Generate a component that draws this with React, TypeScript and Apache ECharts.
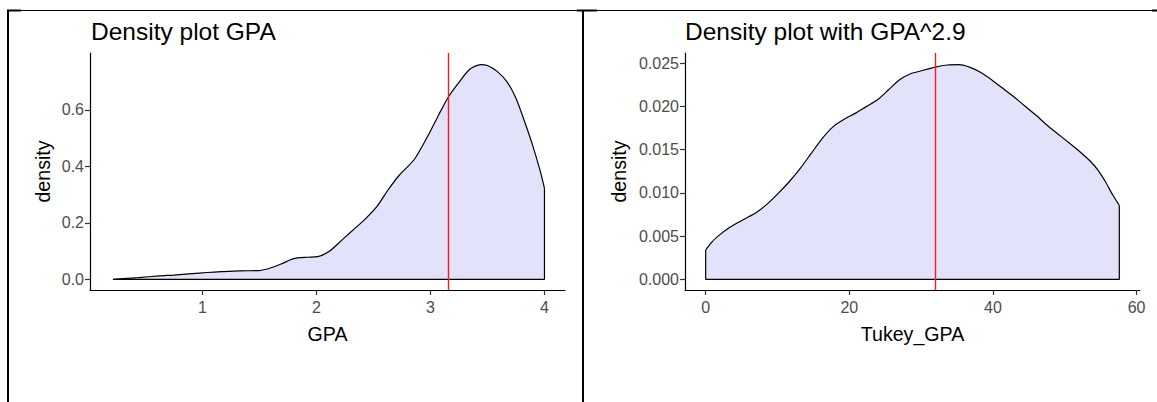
import React, { useEffect, useRef } from "react";
import * as echarts from "echarts";

// Left panel: density of GPA
const gpaX = [0.216, 0.443, 0.62, 0.75, 0.91, 1.04, 1.17, 1.33, 1.5, 1.59, 1.69, 1.8, 1.92, 2.01, 2.11, 2.24, 2.34, 2.43, 2.53, 2.63, 2.73, 2.86, 2.99, 3.08, 3.16, 3.245, 3.34, 3.44, 3.5, 3.585, 3.67, 3.75, 3.81, 3.89, 3.96, 4.0];
const gpaDensity = [0, 0.006, 0.012, 0.015, 0.02, 0.024, 0.027, 0.03, 0.031, 0.039, 0.054, 0.073, 0.078, 0.08, 0.098, 0.145, 0.181, 0.214, 0.257, 0.317, 0.37, 0.425, 0.517, 0.588, 0.647, 0.694, 0.742, 0.76, 0.757, 0.736, 0.7, 0.641, 0.576, 0.482, 0.387, 0.322];
const gpaMean = 3.163;
const gpaXTicks = [1, 2, 3, 4];
const gpaYTicks = [0, 0.2, 0.4, 0.6];

// Right panel: density of Tukey-transformed GPA (GPA^2.9)
const tukeyX = [0, 0.92, 1.94, 2.97, 4.5, 6.04, 7.06, 8.59, 10.13, 11.66, 13.2, 14.73, 16.27, 17.8, 19.34, 20.87, 22.4, 23.94, 25.47, 27.0, 28.54, 30.08, 31.97, 33.66, 35.19, 36.73, 38.26, 39.8, 41.33, 42.86, 44.4, 45.93, 47.47, 49.0, 50.54, 52.07, 53.6, 54.6, 55.65, 56.67, 57.6];
const tukeyDensity = [0.0034, 0.00437, 0.00514, 0.0058, 0.00657, 0.00726, 0.00773, 0.00873, 0.00997, 0.01132, 0.01287, 0.01461, 0.01634, 0.0177, 0.01855, 0.01924, 0.02002, 0.02079, 0.02195, 0.02311, 0.0238, 0.02415, 0.02457, 0.02481, 0.02485, 0.02457, 0.02396, 0.02311, 0.02214, 0.02117, 0.02009, 0.01905, 0.01789, 0.01685, 0.01584, 0.0148, 0.01364, 0.01267, 0.01132, 0.00978, 0.00854];
const tukeyMean = 32.0;
const tukeyXTicks = [0, 20, 40, 60];
const tukeyYTicks = [0, 0.005, 0.01, 0.015, 0.02, 0.025];

const FONT = "'Liberation Sans', Arial, sans-serif";
const FILL = "#E2E2FB";

function curve(xs: number[], ys: number[]) {
  return xs.map((x, i) => [x, ys[i]]);
}
function edges(xs: number[], ys: number[]) {
  const n = xs.length - 1;
  return [
    [xs[n], ys[n]],
    [xs[n], 0],
    [xs[0], 0],
    [xs[0], ys[0]],
  ];
}

function xAxisCfg(idx: number, min: number, max: number, ticks: number[], name: string) {
  return {
    type: "value",
    gridIndex: idx,
    min,
    max,
    name,
    nameLocation: "middle",
    nameGap: 34,
    nameTextStyle: { fontFamily: FONT, fontSize: 19.6, color: "#000" },
    axisLine: { show: true, onZero: false, lineStyle: { color: "#000", width: 1.2 } },
    axisTick: { show: true, customValues: ticks, length: 5, lineStyle: { color: "#333", width: 1.2 } },
    axisLabel: { customValues: ticks, margin: 9, fontFamily: FONT, fontSize: 16, color: "#4D4D4D", formatter: (v: number) => String(v) },
    splitLine: { show: false },
  };
}

function yAxisCfg(idx: number, min: number, max: number, ticks: number[], digits: number, nameGap: number) {
  return {
    type: "value",
    gridIndex: idx,
    min,
    max,
    name: "density",
    nameLocation: "middle",
    nameGap,
    nameTextStyle: { fontFamily: FONT, fontSize: 19.6, color: "#000" },
    axisLine: { show: true, onZero: false, lineStyle: { color: "#000", width: 1.2 } },
    axisTick: { show: true, customValues: ticks, length: 5, lineStyle: { color: "#333", width: 1.2 } },
    axisLabel: { customValues: ticks, margin: 6, fontFamily: FONT, fontSize: 16, color: "#4D4D4D", formatter: (v: number) => v.toFixed(digits) },
    splitLine: { show: false },
  };
}

function seriesFor(idx: number, xs: number[], ys: number[], mean: number) {
  return [
    {
      type: "line",
      xAxisIndex: idx,
      yAxisIndex: idx,
      data: curve(xs, ys),
      smooth: 0.25,
      symbol: "none",
      lineStyle: { color: "#000", width: 1.2 },
      areaStyle: { color: FILL, opacity: 1, origin: 0 },
      z: 2,
    },
    {
      type: "line",
      xAxisIndex: idx,
      yAxisIndex: idx,
      data: edges(xs, ys),
      symbol: "none",
      lineStyle: { color: "#000", width: 1.2 },
      markLine: {
        silent: true,
        symbol: "none",
        label: { show: false },
        lineStyle: { color: "#FF1A1A", width: 1.4, type: "solid" },
        data: [{ xAxis: mean }],
      },
      z: 4,
    },
  ];
}

export default function App() {
  const ref = useRef<HTMLDivElement>(null);
  useEffect(() => {
    if (!ref.current) return;
    const chart = echarts.init(ref.current, undefined, { renderer: "svg" });
    chart.setOption({
      animation: false,
      backgroundColor: "#fff",
      title: [
        { text: "Density plot GPA", left: 91, top: 19, padding: 0, textStyle: { fontFamily: FONT, fontSize: 24.5, fontWeight: "normal", color: "#000" } },
        { text: "Density plot with GPA^2.9", left: 685, top: 19, padding: 0, textStyle: { fontFamily: FONT, fontSize: 24.5, fontWeight: "normal", color: "#000" } },
      ],
      grid: [
        { left: 90, top: 53, width: 475, height: 237 },
        { left: 685, top: 53, width: 455, height: 237 },
      ],
      xAxis: [
        xAxisCfg(0, 0.015, 4.18, gpaXTicks, "GPA"),
        xAxisCfg(1, -2.88, 60.48, tukeyXTicks, "Tukey_GPA"),
      ],
      yAxis: [
        yAxisCfg(0, -0.0379, 0.801, gpaYTicks, 1, 37),
        yAxisCfg(1, -0.00124, 0.0262, tukeyYTicks, 3, 56),
      ],
      series: [...seriesFor(0, gpaX, gpaDensity, gpaMean), ...seriesFor(1, tukeyX, tukeyDensity, tukeyMean)],
      graphic: [
        { type: "line", shape: { x1: 7, y1: 10.5, x2: 1157, y2: 10.5 }, style: { stroke: "#000", lineWidth: 1 } },
        { type: "line", shape: { x1: 7, y1: 10.5, x2: 21, y2: 10.5 }, style: { stroke: "#000", lineWidth: 2 } },
        { type: "line", shape: { x1: 577, y1: 10.5, x2: 597, y2: 10.5 }, style: { stroke: "#000", lineWidth: 2 } },
        { type: "line", shape: { x1: 1152, y1: 10.5, x2: 1157, y2: 10.5 }, style: { stroke: "#000", lineWidth: 2 } },
        { type: "line", shape: { x1: 8, y1: 10, x2: 8, y2: 402 }, style: { stroke: "#000", lineWidth: 2 } },
        { type: "line", shape: { x1: 583, y1: 10, x2: 583, y2: 402 }, style: { stroke: "#000", lineWidth: 2 } },
      ],
    });
    return () => chart.dispose();
  }, []);
  return <div ref={ref} style={{ position: "absolute", left: 0, top: 0, width: 1157, height: 402 }} />;
}
